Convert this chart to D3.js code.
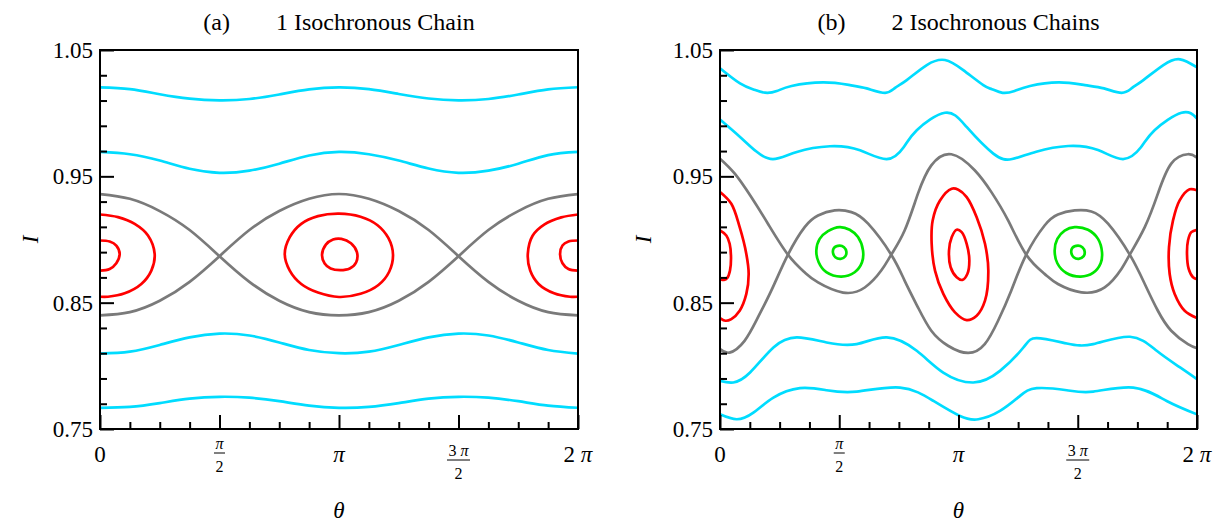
<!DOCTYPE html>
<html>
<head>
<meta charset="utf-8">
<script src="https://cdn.jsdelivr.net/npm/d3@7"></script>
<style>
body { margin: 0; background: #fff; }
</style>
</head>
<body>
<svg id="chart" width="1220" height="522"></svg>
<script>
// theta is kept in units of pi, I is the action
var FONT = "'Liberation Serif', 'Times New Roman', Times, serif";

// axis ticks
var yMajor = [0.75, 0.85, 0.95, 1.05];
var yMinor = [0.77, 0.79, 0.81, 0.83, 0.87, 0.89, 0.91, 0.93, 0.97, 0.99, 1.01, 1.03];
var xMajor = [0, 0.5, 1, 1.5, 2];
var xMinor = [0.125, 0.25, 0.375, 0.625, 0.75, 0.875, 1.125, 1.25, 1.375, 1.625, 1.75, 1.875];
var xTickLabels = [
	{ num: [["0", false]] },
	{ num: [["π", true]], den: "2" },
	{ num: [["π", true]] },
	{ num: [["3 ", false], ["π", true]], den: "2" },
	{ num: [["2 ", false], ["π", true]] }
];

// ---- panel (a): 1 isochronous chain ----
var thetaGridA = [0, 0.125, 0.25, 0.375, 0.5, 0.625, 0.75, 0.875, 1, 1.125, 1.25, 1.375, 1.5, 1.625, 1.75, 1.875, 2];
var cyanA1 = [1.0204, 1.0190, 1.0150, 1.0115, 1.0102, 1.0112, 1.0148, 1.0188, 1.0204, 1.0190, 1.0152, 1.0116, 1.0102, 1.0112, 1.0148, 1.0188, 1.0205];
var cyanA2 = [0.9693, 0.9675, 0.9625, 0.9560, 0.9528, 0.9545, 0.9600, 0.9665, 0.9693, 0.9675, 0.9625, 0.9562, 0.9528, 0.9545, 0.9600, 0.9668, 0.9693];
var cyanA3 = [0.8097, 0.8112, 0.8165, 0.8225, 0.8255, 0.8240, 0.8185, 0.8125, 0.8100, 0.8112, 0.8165, 0.8225, 0.8255, 0.8240, 0.8185, 0.8125, 0.8097];
var cyanA4 = [0.7668, 0.7675, 0.7705, 0.7740, 0.7755, 0.7748, 0.7720, 0.7685, 0.7668, 0.7675, 0.7705, 0.7740, 0.7755, 0.7748, 0.7720, 0.7685, 0.7668];
var greyA1 = [0.9360, 0.9322, 0.9225, 0.9075, 0.8868, 0.8665, 0.8515, 0.8425, 0.8400, 0.8425, 0.8515, 0.8665, 0.8868, 0.9075, 0.9225, 0.9322, 0.9360];
var greyA2 = [0.8400, 0.8425, 0.8515, 0.8665, 0.8868, 0.9075, 0.9225, 0.9322, 0.9360, 0.9322, 0.9225, 0.9075, 0.8868, 0.8665, 0.8515, 0.8425, 0.8400];

var redA_leftOuter = [[0, 0.9198], [0.0753, 0.9177], [0.1451, 0.9124], [0.2008, 0.9032], [0.2287, 0.8886], [0.2148, 0.8754], [0.1729, 0.8648], [0.1032, 0.8574], [0.0335, 0.8547], [0, 0.8547]];
var redA_leftInner = [[0, 0.8992], [0.0405, 0.8984], [0.0683, 0.8952], [0.0823, 0.8886], [0.0683, 0.8812], [0.0405, 0.8767], [0, 0.8754]];
var redA_midOuter = [[0.773, 0.8886], [0.794, 0.9018], [0.842, 0.9124], [0.912, 0.9185], [1.0, 0.9205], [1.09, 0.9180], [1.16, 0.9115], [1.207, 0.9010], [1.226, 0.8880], [1.21, 0.8745], [1.165, 0.8640], [1.09, 0.8570], [1.0, 0.8545], [0.912, 0.8580], [0.842, 0.8648], [0.794, 0.8754]];
var redA_midInner = [[0.929, 0.888], [0.945, 0.896], [0.975, 0.900], [1.01, 0.9005], [1.05, 0.897], [1.075, 0.890], [1.072, 0.882], [1.045, 0.877], [1.005, 0.8757], [0.965, 0.877], [0.94, 0.881]];
var redA_rightOuter = [[2.0, 0.9198], [1.93, 0.9175], [1.86, 0.9120], [1.81, 0.9030], [1.79, 0.8886], [1.80, 0.8754], [1.835, 0.8648], [1.90, 0.8574], [1.967, 0.8547], [2.0, 0.8547]];
var redA_rightInner = [[2.0, 0.8992], [1.96, 0.8984], [1.935, 0.8952], [1.925, 0.8886], [1.935, 0.8812], [1.96, 0.8767], [2.0, 0.8754]];

// ---- panel (b): 2 isochronous chains ----
var cyanB1 = [[0, 1.0355], [0.084, 1.0235], [0.140, 1.0188], [0.189, 1.0162], [0.238, 1.0175], [0.300, 1.0215], [0.433, 1.0243], [0.545, 1.0222], [0.615, 1.0196], [0.692, 1.0161], [0.734, 1.0200], [0.783, 1.0262], [0.867, 1.0381], [0.943, 1.0421], [1.020, 1.0341], [1.104, 1.0222], [1.140, 1.0190], [1.185, 1.0161], [1.235, 1.0176], [1.300, 1.0215], [1.420, 1.0243], [1.530, 1.0222], [1.610, 1.0196], [1.684, 1.0161], [1.728, 1.0200], [1.775, 1.0262], [1.859, 1.0381], [1.929, 1.0426], [2.0, 1.0362]];
var cyanB2 = [[0, 0.9950], [0.084, 0.9812], [0.150, 0.9700], [0.222, 0.9636], [0.322, 0.9693], [0.461, 0.9738], [0.587, 0.9706], [0.699, 0.9636], [0.770, 0.9730], [0.825, 0.9865], [0.943, 1.0003], [1.034, 0.9891], [1.146, 0.9680], [1.225, 0.9637], [1.326, 0.9695], [1.460, 0.9740], [1.585, 0.9708], [1.690, 0.9637], [1.765, 0.9730], [1.822, 0.9865], [1.935, 1.0003], [2.0, 0.9958]];
var cyanB3 = [[0, 0.7881], [0.056, 0.7868], [0.126, 0.7947], [0.224, 0.8145], [0.322, 0.8225], [0.447, 0.8185], [0.573, 0.8172], [0.699, 0.8225], [0.825, 0.8119], [0.936, 0.7947], [1.062, 0.7868], [1.174, 0.7960], [1.272, 0.8145], [1.328, 0.8219], [1.454, 0.8177], [1.565, 0.8172], [1.719, 0.8230], [1.831, 0.8119], [1.929, 0.7987], [2.0, 0.7894]];
var cyanB4 = [[0, 0.7616], [0.070, 0.7577], [0.140, 0.7629], [0.224, 0.7748], [0.335, 0.7823], [0.447, 0.7807], [0.573, 0.7796], [0.755, 0.7828], [0.895, 0.7722], [1.006, 0.7603], [1.083, 0.7577], [1.174, 0.7643], [1.258, 0.7762], [1.328, 0.7823], [1.454, 0.7807], [1.565, 0.7796], [1.733, 0.7828], [1.873, 0.7722], [2.0, 0.7616]];
var greyB1 = [[0, 0.9640], [0.062, 0.9521], [0.131, 0.9336], [0.201, 0.9125], [0.285, 0.8880], [0.355, 0.8740], [0.411, 0.8660], [0.516, 0.8580], [0.607, 0.8620], [0.676, 0.8754], [0.718, 0.8880], [0.774, 0.9071], [0.830, 0.9363], [0.886, 0.9587], [0.970, 0.9675], [1.068, 0.9548], [1.138, 0.9375], [1.208, 0.9151], [1.284, 0.8880], [1.361, 0.8728], [1.417, 0.8648], [1.515, 0.8582], [1.613, 0.8621], [1.683, 0.8767], [1.718, 0.8880], [1.781, 0.9098], [1.836, 0.9363], [1.892, 0.9601], [1.962, 0.9675], [2.0, 0.9648]];
var greyB2 = [[0, 0.8132], [0.040, 0.8105], [0.103, 0.8198], [0.159, 0.8383], [0.215, 0.8595], [0.285, 0.8880], [0.355, 0.9098], [0.411, 0.9190], [0.481, 0.9230], [0.551, 0.9217], [0.621, 0.9125], [0.718, 0.8880], [0.774, 0.8675], [0.830, 0.8463], [0.886, 0.8278], [0.956, 0.8159], [1.040, 0.8102], [1.110, 0.8172], [1.166, 0.8357], [1.221, 0.8595], [1.284, 0.8880], [1.361, 0.9111], [1.417, 0.9198], [1.487, 0.9230], [1.557, 0.9222], [1.627, 0.9125], [1.718, 0.8880], [1.781, 0.8648], [1.836, 0.8436], [1.892, 0.8278], [1.962, 0.8172], [2.0, 0.8140]];

var redB_leftOuter = [[0, 0.9376], [0.0475, 0.9283], [0.0825, 0.9098], [0.1104, 0.8886], [0.1202, 0.8727], [0.1104, 0.8569], [0.0825, 0.8436], [0.0475, 0.8370], [0.0224, 0.8357], [0, 0.8378]];
var redB_leftInner = [[0, 0.9071], [0.0265, 0.9032], [0.0405, 0.8966], [0.0461, 0.8860], [0.0419, 0.8754], [0.0307, 0.8696], [0.0168, 0.8680], [0, 0.8688]];
var redB_midOuter = [[0.9714, 0.9402], [0.9224, 0.9309], [0.8917, 0.9151], [0.8875, 0.8966], [0.9015, 0.8754], [0.9364, 0.8569], [0.9853, 0.8423], [1.0343, 0.8362], [1.0762, 0.8397], [1.1111, 0.8516], [1.125, 0.8754], [1.1111, 0.8966], [1.0762, 0.9177], [1.0343, 0.9336], [0.9993, 0.9394]];
var redB_midInner = [[0.9923, 0.9077], [0.9714, 0.9018], [0.9602, 0.8913], [0.9671, 0.8780], [0.9923, 0.8701], [1.0161, 0.8680], [1.037, 0.8727], [1.0454, 0.8833], [1.0343, 0.8966], [1.0133, 0.9058]];
var redB_rightOuter = [[2.0, 0.9389], [1.969, 0.9397], [1.9273, 0.9310], [1.8994, 0.9151], [1.8826, 0.8939], [1.8854, 0.8727], [1.9064, 0.8569], [1.9483, 0.8436], [2.0, 0.8378]];
var redB_rightInner = [[2.0, 0.9077], [1.9762, 0.9058], [1.9623, 0.8992], [1.9581, 0.8886], [1.9651, 0.8767], [1.9832, 0.8701], [2.0, 0.8685]];

var greenB_q1Outer = [[0.5018, 0.9098], [0.4528, 0.9066], [0.4179, 0.9005], [0.4039, 0.8913], [0.4137, 0.8820], [0.4458, 0.8741], [0.5087, 0.8706], [0.5646, 0.8741], [0.5954, 0.8820], [0.5996, 0.8913], [0.5786, 0.9019], [0.5437, 0.9077]];
var greenB_q1Inner = [[0.5018, 0.8952], [0.478, 0.8934], [0.4738, 0.8894], [0.4836, 0.8860], [0.506, 0.8847], [0.5255, 0.8868], [0.5297, 0.8905], [0.5199, 0.8939]];
var greenB_q3Outer = [[1.4871, 0.9098], [1.4451, 0.9071], [1.4144, 0.9005], [1.4032, 0.8913], [1.4144, 0.8812], [1.4521, 0.8735], [1.5122, 0.8706], [1.5639, 0.8735], [1.5961, 0.8812], [1.6017, 0.8899], [1.5849, 0.9005], [1.543, 0.9077]];
var greenB_q3Inner = [[1.501, 0.8952], [1.4773, 0.8934], [1.4731, 0.8894], [1.4829, 0.8860], [1.5039, 0.8847], [1.5248, 0.8868], [1.529, 0.8905], [1.5192, 0.8939]];

var CYAN = "#00dcff", RED = "#ff0000", GREEN = "#00e600", GREY = "#7a7a7a";

function onGrid(vals) {
	return thetaGridA.map(function(t, i) { return [t, vals[i]]; });
}

// kind: "fn" = single valued in theta, "arc" = piece of an island cut by the frame, "loop" = closed island
var panels = [
	{
		id: "a", x0: 100, x1: 578, tag: "(a)", title: "1 Isochronous Chain", labelOff: 62,
		curves: [
			{ pts: onGrid(cyanA1), color: CYAN, kind: "fn" },
			{ pts: onGrid(cyanA2), color: CYAN, kind: "fn" },
			{ pts: onGrid(cyanA3), color: CYAN, kind: "fn" },
			{ pts: onGrid(cyanA4), color: CYAN, kind: "fn" },
			{ pts: onGrid(greyA1), color: GREY, kind: "fn" },
			{ pts: onGrid(greyA2), color: GREY, kind: "fn" },
			{ pts: redA_leftOuter, color: RED, kind: "arc" },
			{ pts: redA_leftInner, color: RED, kind: "arc" },
			{ pts: redA_midOuter, color: RED, kind: "loop" },
			{ pts: redA_midInner, color: RED, kind: "loop" },
			{ pts: redA_rightOuter, color: RED, kind: "arc" },
			{ pts: redA_rightInner, color: RED, kind: "arc" }
		]
	},
	{
		id: "b", x0: 720, x1: 1197, tag: "(b)", title: "2 Isochronous Chains", labelOff: 69,
		curves: [
			{ pts: cyanB1, color: CYAN, kind: "fn" },
			{ pts: cyanB2, color: CYAN, kind: "fn" },
			{ pts: cyanB3, color: CYAN, kind: "fn" },
			{ pts: cyanB4, color: CYAN, kind: "fn" },
			{ pts: greyB1, color: GREY, kind: "fn" },
			{ pts: greyB2, color: GREY, kind: "fn" },
			{ pts: redB_leftOuter, color: RED, kind: "arc" },
			{ pts: redB_leftInner, color: RED, kind: "arc" },
			{ pts: redB_midOuter, color: RED, kind: "loop" },
			{ pts: redB_midInner, color: RED, kind: "loop" },
			{ pts: redB_rightOuter, color: RED, kind: "arc" },
			{ pts: redB_rightInner, color: RED, kind: "arc" },
			{ pts: greenB_q1Outer, color: GREEN, kind: "loop" },
			{ pts: greenB_q1Inner, color: GREEN, kind: "loop" },
			{ pts: greenB_q3Outer, color: GREEN, kind: "loop" },
			{ pts: greenB_q3Inner, color: GREEN, kind: "loop" }
		]
	}
];

var svg = d3.select("#chart").style("font-family", FONT);
var yTop = 50, yBot = 429;

function serif(sel, size) {
	return sel.style("font-family", FONT).style("font-size", size + "px").attr("fill", "#000");
}

function drawPanel(p) {
	var x = d3.scaleLinear().domain([0, 2]).range([p.x0, p.x1]);
	var y = d3.scaleLinear().domain([0.75, 1.05]).range([yBot, yTop]);
	var g = svg.append("g");

	svg.append("clipPath").attr("id", "clip-" + p.id)
		.append("rect")
		.attr("x", p.x0).attr("y", yTop)
		.attr("width", p.x1 - p.x0).attr("height", yBot - yTop);

	var curves = {
		fn: d3.curveNatural,
		arc: d3.curveCatmullRom.alpha(0.5),
		loop: d3.curveCatmullRomClosed.alpha(0.5)
	};

	var plot = g.append("g").attr("clip-path", "url(#clip-" + p.id + ")");
	p.curves.forEach(function(c) {
		var line = d3.line()
			.x(function(d) { return x(d[0]); })
			.y(function(d) { return y(d[1]); })
			.curve(curves[c.kind]);
		plot.append("path")
			.attr("d", line(c.pts))
			.attr("fill", "none")
			.attr("stroke", c.color)
			.attr("stroke-width", 2.7)
			.attr("stroke-linejoin", "round");
	});

	//y axis, ticks point inward
	var yAx = g.append("g").attr("transform", "translate(" + p.x0 + ",0)")
		.call(d3.axisLeft(y).tickValues(yMajor).tickSize(-14).tickPadding(7).tickFormat(d3.format(".2f")));
	var yAxMinor = g.append("g").attr("transform", "translate(" + p.x0 + ",0)")
		.call(d3.axisLeft(y).tickValues(yMinor).tickSize(-7).tickFormat(""));

	//x axis
	var xAx = g.append("g").attr("transform", "translate(0," + yBot + ")")
		.call(d3.axisBottom(x).tickValues(xMajor).tickSize(-14).tickFormat(""));
	var xAxMinor = g.append("g").attr("transform", "translate(0," + yBot + ")")
		.call(d3.axisBottom(x).tickValues(xMinor).tickSize(-7).tickFormat(""));

	[yAx, yAxMinor, xAx, xAxMinor].forEach(function(a) {
		a.select(".domain").remove();
		a.attr("font-family", null).attr("font-size", null);
		a.selectAll("line").attr("stroke", "#000").attr("stroke-width", 2);
	});
	serif(yAx.selectAll("text"), 23);

	//x tick labels, fractions drawn by hand
	xMajor.forEach(function(v, i) {
		var lab = xTickLabels[i];
		var cx = x(v);
		if (!lab.den) {
			var t = serif(g.append("text"), 23).attr("x", cx).attr("y", 462).attr("text-anchor", "middle");
			lab.num.forEach(function(s) {
				t.append("tspan").text(s[0]).style("font-style", s[1] ? "italic" : "normal");
			});
		} else {
			var lower = lab.num.length > 1 ? 7 : 0;
			var n = serif(g.append("text"), 16).attr("x", cx).attr("y", 449 + lower).attr("text-anchor", "middle");
			lab.num.forEach(function(s) {
				n.append("tspan").text(s[0]).style("font-style", s[1] ? "italic" : "normal");
			});
			var w = n.node().getComputedTextLength() + 3;
			g.append("line")
				.attr("x1", cx - w / 2).attr("x2", cx + w / 2)
				.attr("y1", 453 + lower).attr("y2", 453 + lower)
				.attr("stroke", "#000").attr("stroke-width", 1);
			serif(g.append("text"), 16).attr("x", cx).attr("y", 472 + lower)
				.attr("text-anchor", "middle")
				.text(lab.den);
		}
	});

	//frame
	g.append("rect")
		.attr("x", p.x0).attr("y", yTop)
		.attr("width", p.x1 - p.x0).attr("height", yBot - yTop)
		.attr("fill", "none").attr("stroke", "#000").attr("stroke-width", 2);

	//title
	var tt = serif(g.append("text"), 24).attr("x", (p.x0 + p.x1) / 2).attr("y", 30).attr("text-anchor", "middle");
	tt.append("tspan").text(p.tag);
	tt.append("tspan").attr("dx", 46).text(p.title);

	//axis names
	serif(g.append("text"), 23).attr("x", (p.x0 + p.x1) / 2).attr("y", 518)
		.attr("text-anchor", "middle").style("font-style", "italic")
		.text("θ");
	serif(g.append("text"), 23)
		.attr("transform", "translate(" + (p.x0 - p.labelOff) + "," + ((yTop + yBot) / 2) + ") rotate(-90)")
		.attr("text-anchor", "middle").style("font-style", "italic")
		.text("I");
}

panels.forEach(drawPanel);
</script>
</body>
</html>
